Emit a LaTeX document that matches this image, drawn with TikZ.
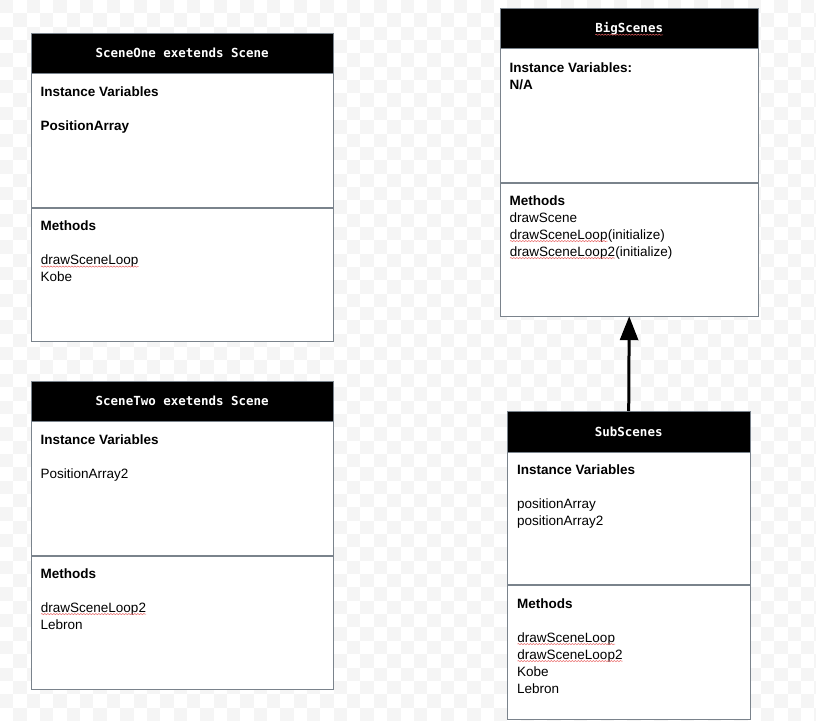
\documentclass[tikz,border=0pt]{standalone}
\usepackage{fontspec}
\setmainfont{Liberation Sans}
\newfontfamily\headmono{DejaVu Sans Mono}
\usetikzlibrary{arrows.meta, positioning, decorations.pathmorphing}
\definecolor{boxLine}{RGB}{122, 131, 140}
\definecolor{spellRed}{RGB}{232, 96, 96}
\definecolor{checkGray}{RGB}{245, 245, 245}

% red wavy spell-check mark under a word
\newcommand{\squig}[1]{\tikz[baseline=(sq.base)]{%
  \node[inner sep=0pt, outer sep=0pt, anchor=base west, minimum size=0pt,
        text height=, text depth=, draw=none, fill=none] (sq) {#1};
  \draw[spellRed, line width=0.5pt, decorate,
        decoration={snake, amplitude=0.6pt, segment length=3pt}]
    ([yshift=-2pt]sq.base west) -- ([yshift=-2pt]sq.base east);}}

\begin{document}
\begin{tikzpicture}[x=1pt, y=-1pt,
    classhead/.style={draw=boxLine, fill=black, text=white, anchor=north west, inner sep=0pt,
      text height=9.1pt, text depth=0pt, font=\headmono\fontsize{12.5}{15}\selectfont\bfseries},
    classpart/.style={draw=boxLine, fill=white, anchor=north west, inner sep=0pt},
    members/.style={anchor=north west, align=left, inner sep=0pt, font=\fontsize{13.5}{17}\selectfont}]

    \useasboundingbox (0, 0) rectangle (816, 720);
    \clip (0, 0) rectangle (816, 720);

    % faint checker background
    \foreach \i in {0,2,...,60} {
        \foreach \j in {0,2,...,54} {
            \fill[checkGray] (\i*13.35, \j*13.35) rectangle ++(13.35, 13.35);
            \fill[checkGray] (\i*13.35+13.35, \j*13.35+13.35) rectangle ++(13.35, 13.35);
        }
    }

    % SceneOne
    \node[classhead, minimum width=302pt, minimum height=40pt] (one) at (31, 33) {SceneOne exetends Scene};
    \node[classpart, minimum width=302pt, minimum height=134pt] (one-attr) at (one.south west) {};
    \node[classpart, minimum width=302pt, minimum height=133pt] (one-meth) at (one-attr.south west) {};
    \node[members] (one-attr-txt) at ([shift={(9.5, 12.8)}]one-attr.north west)
        {\textbf{Instance Variables}\\[17pt]\textbf{PositionArray}};
    \node[members] (one-meth-txt) at ([shift={(9.5, 12.8)}]one-meth.north west)
        {\textbf{Methods}\\[17pt]\squig{drawSceneLoop}\\Kobe};

    % BigScenes
    \node[classhead, minimum width=258pt, minimum height=40pt] (big) at (500, 8) {\squig{BigScenes}};
    \node[classpart, minimum width=258pt, minimum height=134pt] (big-attr) at (big.south west) {};
    \node[classpart, minimum width=258pt, minimum height=133pt] (big-meth) at (big-attr.south west) {};
    \node[members] (big-attr-txt) at ([shift={(9.5, 13.8)}]big-attr.north west)
        {\textbf{Instance Variables:}\\\textbf{N/A}};
    \node[members] (big-meth-txt) at ([shift={(9.5, 12.3)}]big-meth.north west)
        {\textbf{Methods}\\drawScene\\\squig{drawSceneLoop}(initialize)\\\squig{drawSceneLoop2}(initialize)};

    % SceneTwo
    \node[classhead, minimum width=302pt, minimum height=40pt] (two) at (31, 381) {SceneTwo exetends Scene};
    \node[classpart, minimum width=302pt, minimum height=134pt] (two-attr) at (two.south west) {};
    \node[classpart, minimum width=302pt, minimum height=133pt] (two-meth) at (two-attr.south west) {};
    \node[members] (two-attr-txt) at ([shift={(9.5, 13.3)}]two-attr.north west)
        {\textbf{Instance Variables}\\[17pt]PositionArray2};
    \node[members] (two-meth-txt) at ([shift={(9.5, 12.3)}]two-meth.north west)
        {\textbf{Methods}\\[17pt]\squig{drawSceneLoop2}\\Lebron};

    % SubScenes
    \node[classhead, minimum width=243pt, minimum height=41pt] (sub) at (507, 411) {SubScenes};
    \node[classpart, minimum width=243pt, minimum height=132pt] (sub-attr) at (sub.south west) {};
    \node[classpart, minimum width=243pt, minimum height=134pt] (sub-meth) at (sub-attr.south west) {};
    \node[members] (sub-attr-txt) at ([shift={(10, 12.3)}]sub-attr.north west)
        {\textbf{Instance Variables}\\[17pt]positionArray\\positionArray2};
    \node[members] (sub-meth-txt) at ([shift={(10, 13.3)}]sub-meth.north west)
        {\textbf{Methods}\\[17pt]\squig{drawSceneLoop}\\\squig{drawSceneLoop2}\\Kobe\\Lebron};

    % inheritance
    \draw[line width=3pt, -{Triangle[length=24pt, width=18pt]}] (sub.north) -- (big-meth.south);
\end{tikzpicture}
\end{document}
